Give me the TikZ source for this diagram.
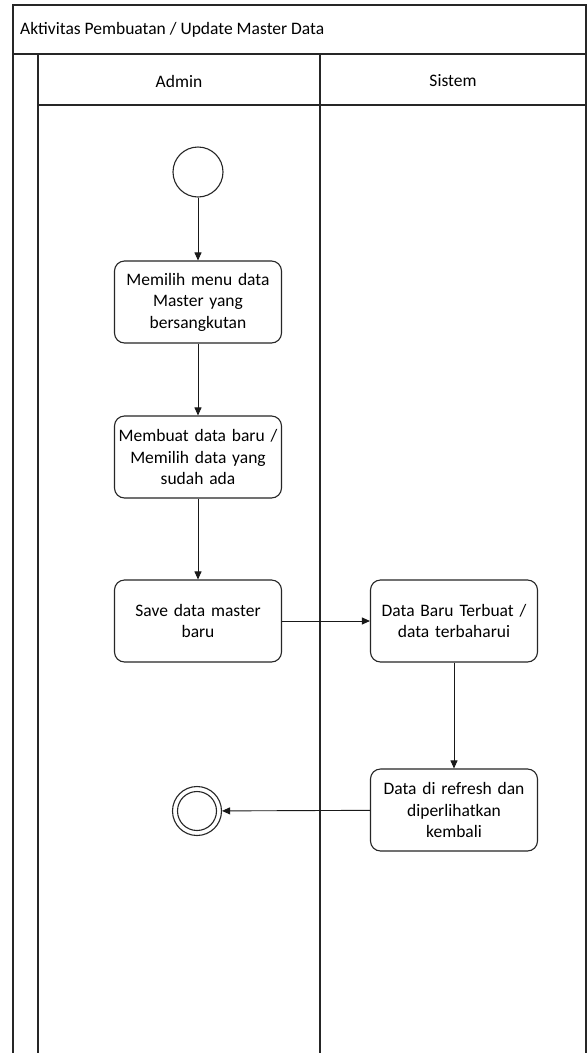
\documentclass[tikz,border=0pt]{standalone}
\usepackage{fontspec}
\setmainfont{Carlito}
\usetikzlibrary{arrows.meta}
\begin{document}
\begin{tikzpicture}[x=1pt,y=-1pt,
  lane/.style={draw=black!85,line width=1.1pt},
  txt/.style={font=\fontsize{17.5}{21.5}\selectfont},
  act/.style={txt,draw=black!85,line width=1.1pt,rounded corners=10pt,minimum width=167pt,minimum height=82pt,align=center,inner sep=1pt,text width=165pt},
  flow/.style={draw=black!90,line width=0.9pt,-{Triangle[length=8pt,width=7pt]}}]
\useasboundingbox (0,0) rectangle (587,1053);
\fill[white] (0,0) rectangle (587,1053);
% swimlane frame
\draw[lane] (13,1053) -- (13,5) -- (586,5) -- (586,1053);
\draw[lane] (13,54) -- (586,54);
\draw[lane] (38,54) -- (38,1053);
\draw[lane] (38,105) -- (586,105);
\draw[lane] (320,54) -- (320,1053);
\node[txt,anchor=west,inner sep=2pt] (title) at (18,30) {Aktivitas Pembuatan / Update Master Data};
\node[txt] (admin) at (179,81) {Admin};
\node[txt] (sistem) at (453,81) {Sistem};
% activities
\node[draw=black!85,line width=1.1pt,circle,minimum size=50pt,inner sep=0pt] (start) at (198,172) {};
\node[act] (a1) at (198,302) {Memilih menu data\\Master yang\\bersangkutan};
\node[act] (a2) at (198,457) {Membuat data baru /\\Memilih data yang\\sudah ada};
\node[act] (a3) at (198,621) {Save data master\\baru};
\node[act] (s1) at (454,621) {Data Baru Terbuat /\\data terbaharui};
\node[act] (s2) at (454,810) {Data di refresh dan\\diperlihatkan\\kembali};
\node[draw=black!85,line width=1.1pt,circle,minimum size=49pt,inner sep=0pt] (stop) at (197,811) {};
\node[draw=black!85,line width=1.1pt,circle,minimum size=39pt,inner sep=0pt] (stopin) at (197,811) {};
% flows
\draw[flow] (start) -- (a1);
\draw[flow] (a1) -- (a2);
\draw[flow] (a2) -- (a3);
\draw[flow] (a3) -- (s1);
\draw[flow] (s1) -- (s2);
\draw[flow] (s2) -- (stop);
\end{tikzpicture}
\end{document}
